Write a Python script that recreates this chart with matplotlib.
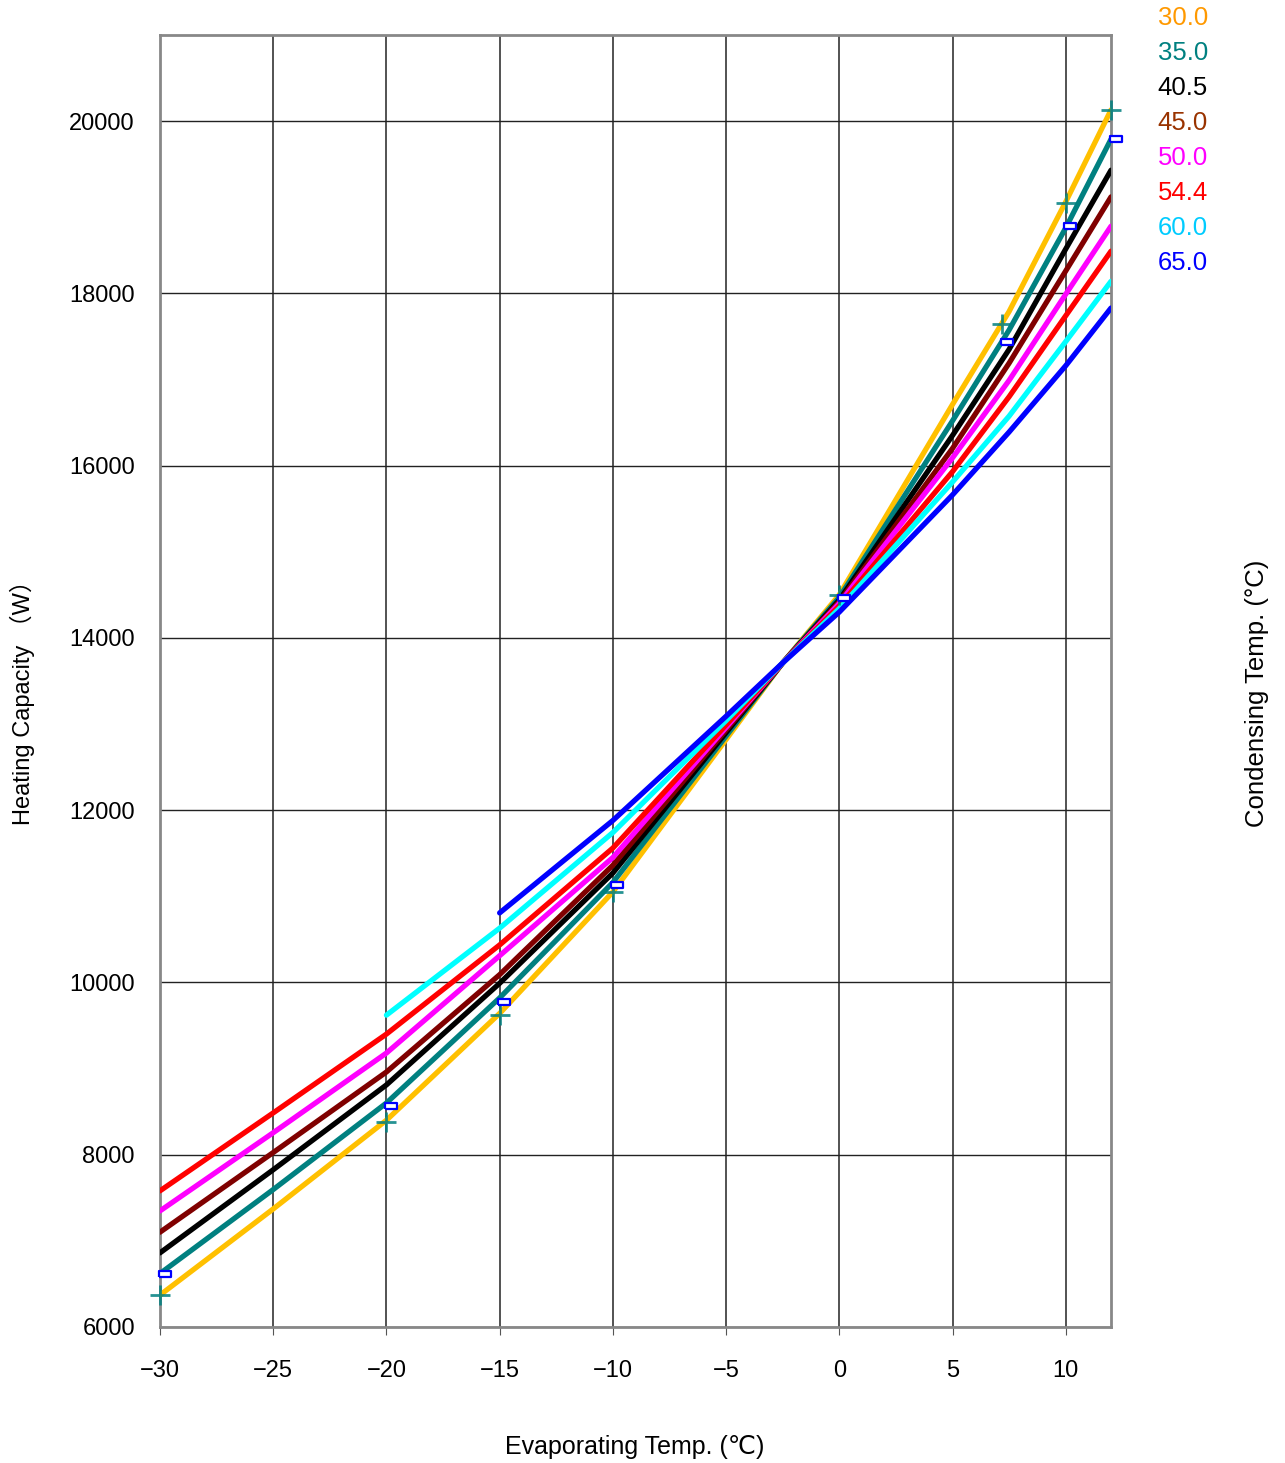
import matplotlib.pyplot as plt
import matplotlib.path as mpath

plt.rcParams['font.family'] = ['Liberation Sans', 'DejaVu Sans', 'Noto Sans CJK JP']

# evaporating temperature points
x_pts = [-30, -25, -20, -15, -10, -5, -2.5, 0, 5, 7.5, 10, 12]
x_60 = x_pts[2:]
x_65 = x_pts[3:]

# heating capacity (W) per condensing temperature
cap_30 = [6370, 7370, 8400, 9640, 11050, 12820, 13710, 14500, 16710, 17790, 19062, 20130]
cap_35 = [6620, 7595, 8600, 9820, 11160, 12860, 13710, 14470, 16520, 17575, 18760, 19790]
cap_40 = [6860, 7825, 8810, 9990, 11270, 12900, 13710, 14440, 16350, 17350, 18515, 19430]
cap_45 = [7100, 8025, 8960, 10090, 11360, 12930, 13710, 14420, 16200, 17190, 18260, 19120]
cap_50 = [7347, 8255, 9180, 10310, 11450, 12960, 13710, 14400, 16090, 16990, 17990, 18780]
cap_54 = [7580, 8485, 9400, 10435, 11560, 12990, 13710, 14370, 15930, 16800, 17740, 18490]
cap_60 = [9620, 10630, 11740, 13040, 13710, 14340, 15810, 16575, 17440, 18140]
cap_65 = [10807, 11880, 13090, 13710, 14300, 15660, 16390, 17160, 17830]

# measured points (two marker sets)
plus_x = [-30, -20, -15, -10, 0, 7.2, 10, 12]
plus_y = [6370, 8380, 9620, 11050, 14500, 17650, 19050, 20130]
rect_x = [-29.8, -19.8, -14.8, -9.8, 0.2, 7.4, 10.2, 12.2]
rect_y = [6610, 8570, 9775, 11130, 14460, 17440, 18780, 19790]

labels = ['30.0', '35.0', '40.5', '45.0', '50.0', '54.4', '60.0', '65.0']
line_colors = ['#FFC000', '#008080', '#000000', '#800000', '#FF00FF', '#FF0000', '#00FFFF', '#0000FF']
text_colors = ['#FF9900', '#008080', '#000000', '#993300', '#FF00FF', '#FF0000', '#00CCFF', '#0000FF']

fig = plt.figure(figsize=(12.85, 14.63), dpi=100)
ax = fig.add_axes([0.1245, 0.093, 0.7401, 0.8831])

series = [(x_pts, cap_30), (x_pts, cap_35), (x_pts, cap_40), (x_pts, cap_45),
          (x_pts, cap_50), (x_pts, cap_54), (x_60, cap_60), (x_65, cap_65)]
for (xs, ys), c in zip(series, line_colors):
    ax.plot(xs, ys, color=c, lw=3.8, solid_capstyle='round', solid_joinstyle='round', zorder=3)

ax.plot(plus_x, plus_y, linestyle='none', marker='+', markersize=14, mew=2,
        color='#008080', alpha=0.85, zorder=4, clip_on=False)
rect = mpath.Path([[-1, -0.45], [1, -0.45], [1, 0.45], [-1, 0.45], [-1, -0.45]])
ax.plot(rect_x, rect_y, linestyle='none', marker=rect, markersize=9, mew=1.6,
        mec='#0000FF', mfc='white', zorder=5, clip_on=False)

ax.set_xlim(-30, 12)
ax.set_ylim(6000, 21000)
ax.set_xticks(range(-30, 11, 5))
ax.set_yticks(range(6000, 20001, 2000))
ax.grid(True, axis='x', color='#444444', lw=1.3)
ax.grid(True, axis='y', color='#222222', lw=1.0)
ax.set_axisbelow(True)
for s in ax.spines.values():
    s.set_color('#888888')
    s.set_linewidth(2)
ax.tick_params(axis='x', labelsize=17, length=6, color='#555555', pad=18)
ax.tick_params(axis='y', labelsize=17, length=0, pad=18)

fig.text(635 / 1285, 1 - 1447 / 1463, 'Evaporating Temp. (℃)', fontsize=18,
         ha='center', va='center')
fig.text(22 / 1285, 1 - 697 / 1463, 'Heating Capacity （W）', fontsize=17,
         rotation=90, ha='center', va='center')

for i, (lab, c) in enumerate(zip(labels, text_colors)):
    fig.text(0.901, 1 - (18 + 35 * i) / 1463, lab, color=c, fontsize=18.5, va='center')
fig.text(1257 / 1285, 1 - 693 / 1463, 'Condensing Temp. (°C)', rotation=90, fontsize=18.5,
         va='center', ha='center')

fig.savefig('out.png')
